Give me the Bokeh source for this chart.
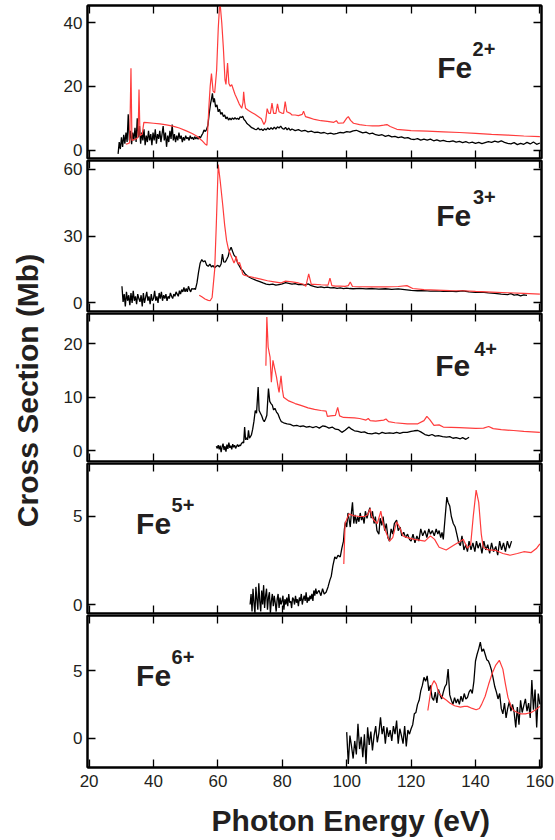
from math import pi
from bokeh.plotting import figure
from bokeh.layouts import column, row
from bokeh.models import Range1d, Label, LinearAxis, FixedTicker
from bokeh.embed import file_html
from bokeh.resources import INLINE

FONT = "Liberation Sans"
TXT = "#231f20"
RED = "#ff3c3c"

# ------------------------------------------------------------------ data
x_ticks = [20, 40, 60, 80, 100, 120, 140, 160]
x_tick_labels = {20: "20", 40: "40", 60: "60", 80: "80", 100: "100", 120: "120", 140: "140", 160: "160"}

ion_labels = ["Fe", "Fe", "Fe", "Fe", "Fe"]
ion_charges = ["2+", "3+", "4+", "5+", "6+"]
y_ticks = [[0, 20, 40], [0, 30, 60], [0, 10, 20], [0, 5], [0, 5]]
y_ranges = [(-2.67, 45.4), (-3.82, 64.0), (-2.06, 25.68), (-0.51, 8.01), (-2.16, 9.06)]

# ---- Fe2+ experiment: dense scan part (start 29.0 eV, 0.35 eV step) + coarser part
fe2_exp_dense_start = 29.0
fe2_exp_dense_step = 0.35
fe2_exp_dense_y = [-1.2, 2.5, 0.3, 4.0, 1.0, 4.8, 2.0, 5.5, 2.5, 11.2,
                   3.0, 6.0, 1.8, 5.5, 3.0, 7.0, 2.5, 10.0, 4.0, 7.5,
                   2.0, 5.5, 3.0, 6.5, 1.5, 4.5, 2.5, 6.0, 3.0, 5.0,
                   1.5, 5.5, 3.0, 6.5, 2.0, 5.0, 3.5, 6.0, 2.5, 5.0,
                   7.5, 3.0, 5.5, 1.0, 4.5, 2.5, 6.0, 3.5, 8.0, 3.0,
                   5.0, 2.5, 4.5, 3.0, 5.5, 3.5, 4.5, 2.5, 4.0, 3.0,
                   4.5, 3.5, 4.0, 3.0, 4.5, 3.5, 4.0, 3.2, 4.2, 3.5,
                   4.0, 3.4, 4.3, 3.8, 4.5]
fe2_exp_e = [55.3, 55.7, 56.1, 56.5, 56.9, 57.3, 57.7, 58.0, 58.3, 58.6, 58.9, 59.3, 59.7, 60.1, 60.5,
             60.9, 61.3, 61.7, 62.1, 62.5, 62.9, 63.3, 63.7, 64.1, 64.5, 64.9, 65.3, 65.7, 66.1, 66.5,
             66.9, 67.3, 67.7, 68.1, 68.5, 68.9, 69.3, 69.7, 70.1, 70.5, 71, 71.5, 72, 72.5, 73, 73.5,
             74, 74.5, 75, 75.5, 76, 76.5, 77, 77.5, 78, 78.5, 79, 79.5, 80, 80.5, 81, 81.5, 82, 82.5,
             83, 84, 85, 86, 87, 88, 89, 90, 91, 92, 93, 94, 95, 96, 97, 98, 99, 100, 101, 102, 103,
             104, 105, 106, 107, 108, 109, 110, 111, 112, 113, 114, 115, 116, 117, 118, 119, 120, 121,
             122, 123, 124, 125, 126, 127, 128, 129, 130, 131, 132, 133, 134, 135, 136, 137, 138, 139,
             140, 141, 142, 143, 144, 145, 146, 147, 148, 149, 150, 151, 152, 153, 154, 155, 156, 157,
             158, 159, 160]
fe2_exp_y = [5.2, 6.3, 5.8, 6.5, 7.8, 11.5, 14.5, 16.0, 17.8, 15.0, 16.2, 13.5, 14.2, 12.0, 12.8,
             11.2, 11.8, 10.5, 11.0, 9.8, 10.4, 9.4, 10.0, 9.5, 10.1, 9.6, 10.2, 9.7, 10.0, 9.6,
             10.4, 10.2, 10.6, 9.6, 9.2, 8.5, 8.1, 7.8, 7.4, 7.0, 6.8, 6.5, 6.4, 6.9, 6.3, 6.6,
             6.1, 6.7, 6.3, 6.9, 6.4, 7.0, 6.5, 7.2, 6.6, 7.3, 6.9, 7.5, 6.8, 6.5, 7.1, 6.3, 6.9, 6.2,
             6.6, 6.1, 6.4, 5.9, 6.2, 5.7, 5.9, 5.5, 5.6, 5.3, 5.5, 5.1, 5.3, 5.0, 5.2, 5.5, 5.4, 5.8,
             5.6, 6.0, 6.2, 5.8, 5.4, 5.6, 5.1, 5.3, 4.8, 4.6, 4.8, 4.3, 4.6, 4.1, 4.3, 3.9, 4.1, 3.7,
             3.9, 3.4, 3.3, 3.6, 3.1, 3.4, 3.1, 3.4, 2.9, 3.2, 2.8, 3.0, 2.7, 2.6, 2.9, 2.5, 2.7, 2.3,
             2.6, 2.2, 2.5, 2.1, 2.4, 2.0, 2.3, 2.6, 2.4, 2.8, 2.5, 2.9, 2.4, 2.1, 1.9, 2.3, 1.7, 2.1,
             1.8, 2.4, 1.9, 2.5, 1.8, 2.2]
fe2_th_e = [31.4, 32.0, 32.6, 33.0, 33.3, 34.0, 34.6, 35.2, 35.5, 35.8, 36.5, 37.0, 38, 40, 42, 44, 46,
            48, 50, 52, 53.5, 55, 56, 56.6, 57.2, 57.6, 58.0, 58.5, 59.0, 59.6, 60.1, 60.6, 61.2, 61.7,
            62.2, 62.5, 63.0, 63.4, 63.8, 64.3, 64.8, 65.3, 65.9, 66.6, 67.4, 67.8, 68.0, 68.3, 68.6,
            69.5, 70.5, 71.5, 72.5, 73.5, 74.3, 74.8, 75.3, 75.8, 76.3, 76.8, 77.3, 78.0, 78.5, 79.0,
            79.8, 80.4, 80.9, 81.4, 82.5, 83, 84, 85, 86.2, 86.6, 87.2, 88.5, 90, 92, 94, 96, 96.8,
            97.4, 99, 100, 100.5, 101.2, 102.1, 104, 106, 108, 110, 111.5, 112.5, 113.5, 115.6, 120,
            125, 130, 135, 140, 145, 150, 155, 160]
fe2_th_y = [1.8, 2.0, 2.3, 25.7, 3.0, 3.3, 3.5, 4.0, 19.0, 4.5, 5.0, 8.7, 8.6, 8.4, 8.2, 7.9, 7.5,
            6.9, 6.1, 5.2, 4.3, 3.0, 1.9, 1.5, 13.6, 20.0, 24.0, 18.5, 18.0, 25.0, 38.0, 47.0, 40.0, 32.0,
            22.0, 20.6, 27.3, 21.0, 20.0, 20.5, 19.0, 17.5, 16.2, 14.5, 13.1, 15.0, 18.3, 15.0, 13.1,
            12.4, 11.8, 11.2, 10.5, 9.8, 8.0, 9.0, 13.0, 11.5, 11.5, 14.7, 11.5, 11.5, 14.5, 12.0,
            11.6, 11.5, 15.2, 12.0, 11.5, 11.0, 11.0, 10.8, 11.2, 12.2, 10.5, 10.1, 9.6, 9.2, 9.0, 8.7, 9.2,
            8.4, 8.5, 10.0, 10.5, 9.3, 8.4, 8.0, 7.7, 7.6, 7.6, 7.8, 8.0, 7.4, 6.5, 6.1,
            5.9, 5.7, 5.5, 5.2, 4.9, 4.7, 4.4, 4.2]

# ---- Fe3+
fe3_exp_dense_start = 30.2
fe3_exp_dense_step = 0.35
fe3_exp_dense_y = [7.5, 0.5, 4.0, -1.5, 5.0, 1.0, 3.5, -1.0, 4.5, 0.0,
                   5.5, 1.0, 3.0, -0.5, 4.0, 2.0, 0.5, 3.5, -1.5, 4.5,
                   0.0, 2.5, 5.0, 1.0, 3.0, -0.5, 4.0, 1.0, 2.0, 5.5,
                   1.0, 3.0, 0.0, 4.5, 2.0, 5.0, 1.0, 3.5, 2.0, 4.0,
                   1.0, 3.0, 2.0, 4.5, 3.0, 2.0, 4.0, 3.0, 5.0, 4.0,
                   3.0, 5.5, 4.0, 6.0, 5.0, 7.0, 5.0, 6.5, 5.0, 7.5,
                   6.0, 5.0, 6.5]
fe3_exp_e = [52.3, 52.7, 53.0, 53.5, 54.0, 54.5, 55.0, 55.5, 56.0, 56.5, 57.0, 57.5, 58.0, 58.5, 59.0,
             59.5, 60.0, 60.5, 61.0, 61.4, 61.8, 62.3, 62.7, 63.2, 63.6, 64.1, 64.6, 65.0, 65.6, 66.1,
             66.7, 67.2, 67.7, 68.5, 69.5, 70.5, 71.9, 73, 74, 75, 76, 77, 78, 79, 80, 81, 82, 83, 84,
             85, 86, 87, 88, 89, 90, 91, 92, 93, 94, 95, 96, 97, 98, 99, 100, 101, 102, 104, 106, 108,
             110, 112, 114, 116, 118, 120, 122, 124, 126, 128, 130, 132, 134, 136, 138, 140, 142, 144,
             146, 148, 150, 151, 152, 153, 154, 155, 156]
fe3_exp_y = [6.2, 6.5, 6.0, 9.0, 14.0, 18.0, 19.5, 18.5, 19.0, 17.0, 16.5, 17.5, 16.2, 16.8, 15.8,
             16.5, 16.9, 16.2, 17.5, 22.0, 18.5, 18.4, 19.5, 21.0, 23.5, 25.0, 23.0, 21.5, 20.5, 18.0,
             16.5, 15.2, 14.6, 13.0, 11.8, 11.0, 10.2, 9.6, 9.0, 8.5, 8.2, 8.5, 8.0, 8.3, 8.6, 9.1, 8.8,
             8.5, 8.7, 8.3, 8.4, 8.0, 8.6, 7.8, 7.4, 7.0, 7.2, 6.9, 7.1, 6.8, 6.9, 6.6, 6.8, 6.5, 6.7,
             6.5, 6.4, 6.6, 6.3, 6.5, 6.2, 6.4, 6.1, 6.3, 6.0, 5.7, 5.5, 5.6, 5.3, 5.4, 5.2, 5.3, 5.1,
             5.5, 5.0, 4.8, 4.9, 4.5, 4.3, 4.0, 3.8, 4.2, 3.5, 3.8, 3.2, 3.6, 3.4]
fe3_th_e = [54.2, 55, 56, 57, 57.6, 58.2, 59.0, 59.5, 60.1, 60.7, 61.5, 62.1, 62.7, 63.3, 64.3, 65.0,
            65.4, 65.7, 65.9, 66.3, 66.7, 67.2, 67.7, 68.1, 69.5, 71.2, 73, 75.4, 77.5, 79.5, 81, 83,
            85, 86.6, 87.3, 88.2, 89, 90, 92, 94.2, 94.8, 95.4, 96.5, 98, 99.5, 100.5, 101.1, 101.8,
            104, 108, 112, 116, 118.7, 120.5, 124, 128, 132, 136, 140, 145, 150, 155, 160]
fe3_th_y = [3.5, 2.8, 1.8, 1.2, 1.0, 2.5, 15.0, 35.0, 62.2, 55.0, 44.0, 35.0, 28.0, 24.0, 20.4, 18.0,
            19.3, 21.0, 19.3, 17.5, 18.2, 16.0, 13.0, 12.5, 12.0, 11.4, 10.8, 10.0, 9.5, 9.0, 9.8, 9.5,
            9.0, 8.4, 7.5, 13.1, 8.4, 8.4, 8.2, 8.0, 11.2, 7.8, 7.6, 7.6, 7.5, 7.8, 9.4, 7.4,
            7.3, 7.2, 7.2, 7.4, 7.8, 6.5, 6.0, 5.8, 5.6, 5.5, 5.2, 4.9, 4.6, 4.3, 4.0]

# ---- Fe4+
fe4_exp_dense_start = 59.5
fe4_exp_dense_step = 0.3
fe4_exp_dense_y = [0.8, 0.4, 1.0, 0.2, 0.9, -0.3, 0.7, 1.3, 0.1, 0.8, -0.2, 1.1, 0.3, 1.5,
                   0.5, 0.9, 0.2, 1.2, 0.6, 1.0, 0.4, 0.8, 1.1, 0.7, 1.0, 0.9, 1.3]
fe4_exp_e = [67.8, 68.0, 68.3, 68.6, 68.9, 69.2, 69.5, 69.8, 70.1, 70.4, 70.8, 71.2, 71.6, 72.0, 72.5,
             72.8, 73.2, 73.6, 74.0, 74.4, 74.8, 75.2, 75.7, 76.1, 76.5, 76.9, 77.3, 77.7, 78.2, 78.7,
             79.2, 79.7, 80.4, 81.5, 82.5, 83.5, 84.5, 85.5, 86.5, 87.5, 88.5, 89.5, 90.5, 91.5, 92.5,
             93.5, 94.5, 95.5, 96.5, 97.5, 98.5, 99.5, 100.7, 101.5, 102.4, 103.5, 104.5, 105.5, 106.5,
             107.8, 109, 110, 111, 112, 113.3, 114.5, 115.5, 116.5, 117.5, 118.8, 120, 121, 122.1, 123,
             124.3, 125.5, 126.5, 127.5, 128.5, 129.8, 131, 132, 133, 134, 135.3, 136, 137, 138]
fe4_exp_y = [1.6, 1.4, 4.4, 2.0, 2.4, 2.0, 3.8, 2.3, 2.6, 2.9, 4.0, 5.5, 7.5, 7.0, 11.9,
             7.5, 7.0, 6.5, 5.8, 5.4, 5.9, 6.6, 11.6, 9.2, 8.8, 8.5, 7.6, 7.9, 7.2, 6.8,
             6.0, 5.4, 5.2, 5.0, 4.9, 4.6, 4.7, 4.5, 4.6, 4.4, 4.5, 4.3, 4.5, 4.2, 4.6,
             4.5, 4.2, 4.4, 4.0, 3.9, 3.4, 3.8, 4.4, 4.0, 3.7, 3.6, 3.4, 3.5, 3.2,
             3.1, 3.3, 3.1, 3.4, 3.2, 3.3, 3.2, 3.4, 3.2, 3.4, 3.4, 3.6, 3.7, 3.75, 3.5,
             3.0, 2.8, 3.0, 2.7, 2.8, 2.6, 2.5, 2.6, 2.3, 2.4, 2.2, 2.4, 2.1, 2.5]
fe4_th_e = [74.9, 75.2, 75.6, 76.2, 76.6, 77.1, 77.4, 78.2, 78.8, 79.0, 79.6, 80.0, 80.4, 82, 84, 86,
            88, 90, 92, 93.6, 94.0, 95, 96.5, 97.2, 97.8, 99, 102.4, 104, 106, 106.7, 107.3, 109,
            111.5, 112.2, 113, 115, 118.8, 122.1, 124, 124.9, 125.8, 127.1, 128.7, 130, 135, 140,
            142.5, 144.1, 145.5, 148, 151.8, 155, 160]
fe4_th_y = [15.9, 25.0, 19.4, 17.5, 12.8, 16.9, 16.0, 13.75, 11.5, 10.9, 14.0, 11.5, 10.0, 9.3, 8.8, 8.4,
            8.0, 7.7, 7.5, 7.4, 6.4, 6.5, 6.6, 8.1, 6.5, 6.2, 6.1, 6.0, 5.7, 6.0, 5.6, 5.5,
            5.7, 5.9, 5.4, 5.2, 5.0, 5.0, 5.6, 6.4, 5.8, 4.7, 4.8, 4.4, 4.3, 4.15,
            4.2, 4.5, 4.1, 3.9, 3.75, 3.6, 3.4]

# ---- Fe5+
fe5_exp_dense_start = 70.0
fe5_exp_dense_step = 0.3
fe5_exp_dense_y = [0.0, 0.6, -0.4, 0.9, 0.1, -0.5, 1.0, 0.3, -0.3, 1.2, 0.2, -0.4, 0.8, 0.0, 1.1, -0.2, 0.5,
                   0.9, -0.3, 0.4, 0.7, -0.5, 0.2, 0.6, -0.1, 0.5, 0.1, -0.4, 0.3, 0.6, -0.2, 0.4, 0.0, 0.2,
                   0.5, -0.3, 0.3, 0.0, 0.4, -0.1, 0.6, 0.1, 0.2, -0.2, 0.4, 0.3, 0.0, 0.5, 0.1, 0.3, -0.1,
                   0.4, 0.2, 0.6, 0.0, 0.3, 0.5, 0.2, 0.7, 0.1, 0.4, 0.2, 0.5, 0.3, 0.6, 0.2, 0.8, 0.5, 0.9,
                   0.6, 0.7]
fe5_exp_e = [91.4, 92, 92.5, 93, 93.6, 94.2, 94.8, 95.2, 95.7, 96.3, 96.8, 97.3, 98, 98.5, 99, 99.3,
             99.6, 100, 100.4, 100.7, 101.1, 101.5, 101.8, 102.2, 102.6, 103, 103.4, 103.8, 104.2,
             104.6, 105, 105.4, 105.8, 106.3, 106.7, 107.2, 107.6, 108, 108.5, 108.9, 109.4, 110,
             110.4, 110.9, 111.3, 111.8, 112.3, 112.8, 113.3, 113.8, 114.3, 114.8, 115.5, 116, 116.6,
             117.1, 117.7, 118.3, 118.9, 119.5, 120, 120.6, 121.2, 121.8, 122.4, 123, 123.6, 124.3,
             124.9, 125.5, 126, 126.6, 127.2, 127.8, 128.3, 128.7, 129.2, 129.6, 130.0, 130.5, 131.1,
             131.5, 132.0, 132.5, 133.1, 133.7, 134.2, 134.8, 135.3, 135.8, 136.4, 137, 137.5, 138,
             138.6, 139.2, 139.8, 140.3, 140.8, 141.4, 142, 142.6, 143.2, 143.8, 144.4, 145, 145.6,
             146.3, 146.9, 147.5, 148.1, 148.7, 149.3, 149.9, 150.5, 151.2]
fe5_exp_y = [0.8, 0.5, 0.9, 0.6, 0.7, 1.0, 1.4, 1.6, 2.2, 2.7, 2.6, 2.8, 2.7, 3.2, 3.6, 4.3,
             4.7, 4.4, 5.2, 4.9, 4.4, 5.3, 5.8, 4.6, 5.1, 4.6, 5.0, 4.7, 5.2,
             4.8, 5.0, 4.6, 5.3, 4.9, 5.2, 5.5, 4.9, 5.3, 4.6, 5.0, 4.2, 4.0,
             4.9, 4.5, 5.0, 4.2, 4.6, 3.8, 3.6, 4.3, 4.0, 4.6, 4.8, 4.2, 4.4,
             3.9, 4.1, 3.8, 4.0, 3.7, 3.6, 4.0, 3.5, 3.9, 3.6, 4.3, 3.9, 4.2,
             3.8, 4.3, 4.0, 4.2, 3.9, 4.3, 4.0, 4.2, 3.8, 4.1, 3.7, 4.8, 6.1,
             5.8, 5.6, 5.0, 4.6, 4.4, 4.0, 3.5, 3.35, 3.9, 3.1, 3.4, 3.0, 3.6,
             3.1, 3.5, 3.0, 3.6, 3.2, 3.5, 2.9, 3.6, 3.1, 3.4, 2.9, 3.5, 3.0,
             3.3, 2.8, 3.6, 3.1, 3.5, 3.0, 3.6, 3.2, 3.6]
fe5_th_e = [99.1, 99.5, 100.7, 102, 104, 105.6, 106.5, 107.3, 107.8, 108.4, 109.5, 110.6, 111.2, 112,
            113.3, 114.3, 115.5, 116.4, 117.5, 118.8, 121, 124.3, 126, 127.3, 128.7, 130.9, 133.1,
            135.3, 136.2, 137.5, 138.5, 139.3, 140.2, 141.0, 141.8, 142.4, 144, 146.3, 148.5, 150.7,
            153, 155, 157.3, 159, 160]
fe5_th_y = [2.3, 4.6, 5.15, 5.05, 5.0, 5.0, 5.1, 5.45, 5.0, 4.8, 4.6, 5.3, 4.7, 4.2,
            3.6, 3.8, 4.7, 4.4, 3.9, 3.8, 3.7, 3.6, 3.9, 3.7, 3.25, 3.1, 3.35,
            3.6, 3.7, 3.2, 3.4, 5.0, 6.5, 5.8, 4.0, 3.25, 3.1, 3.07, 2.9, 2.8,
            2.9, 3.0, 2.95, 3.2, 3.45]

# ---- Fe6+ (scan start 100 eV, 0.5 eV step)
fe6_exp_start = 100.0
fe6_exp_step = 0.5
fe6_exp_y = [0.45, -1.9, 0.2, -0.6, -1.5, -0.2, -1.2, 1.06, -0.8, 0.1, -1.4,
             0.3, -1.9, 0.8, -0.5, 0.5, -0.9, 0.2, 0.9, -0.3, 0.4,
             1.55, 0.3, 0.9, -0.4, 0.8, 0.1, 0.6, -0.2, 0.9, 0.3,
             1.3, -0.4, 0.7, 0.2, -0.4, 0.9, -0.6, 0.6, 0.3, 0.7,
             1.0, 1.8, 1.9, 2.5, 2.8, 3.5, 3.9, 4.5, 4.2, 4.6,
             3.5, 3.9, 3.0, 2.8, 3.4, 2.6, 3.6, 3.2, 2.9, 3.4,
             3.8, 4.0, 5.1, 3.2, 2.8, 2.5, 3.0, 2.6, 2.9, 2.5,
             3.1, 2.7, 3.3, 2.9, 3.0, 3.4, 3.6, 3.3, 4.2, 5.7,
             6.2, 6.6, 7.1, 6.4, 6.6, 6.2, 5.8, 5.7, 5.4, 5.0,
             4.4, 3.8, 3.4, 2.9, 3.3, 2.2, 1.8, 2.6, 1.5, 2.2,
             2.7, 2.0, 2.5, 1.9, 0.8, 2.3, 1.0, 2.8, 1.9, 2.4,
             2.9, 2.0, 2.6, 1.5, 4.3, 2.1, 3.6, 0.8, 3.3, 2.5]
fe6_th_e = [125.2, 125.8, 126.4, 127.1, 127.8, 128.5, 129.8, 131, 132, 133.5, 135.3, 136.5, 137.5,
            139, 140.2, 141.2, 141.9, 143, 144.1, 145.2, 146.3, 147.4, 148.5, 149.3, 150.1, 151,
            151.8, 153, 154, 155.5, 157.3, 158.7, 160]
fe6_th_y = [2.05, 3.0, 3.9, 4.25, 4.0, 3.4, 3.0, 2.8, 2.6, 2.4, 2.3, 2.35, 2.35,
            2.2, 2.1, 2.2, 2.5, 3.1, 4.0, 4.8, 5.4, 5.75, 5.1, 4.0, 3.0, 2.4,
            2.05, 1.9, 1.8, 1.8, 1.9, 2.1, 2.35]


def grid_axis(start, step, n):
    return [round(start + step * i, 3) for i in range(n)]


exp_series = [
    (grid_axis(fe2_exp_dense_start, fe2_exp_dense_step, len(fe2_exp_dense_y)) + fe2_exp_e,
     fe2_exp_dense_y + fe2_exp_y),
    (grid_axis(fe3_exp_dense_start, fe3_exp_dense_step, len(fe3_exp_dense_y)) + fe3_exp_e,
     fe3_exp_dense_y + fe3_exp_y),
    (grid_axis(fe4_exp_dense_start, fe4_exp_dense_step, len(fe4_exp_dense_y)) + fe4_exp_e,
     fe4_exp_dense_y + fe4_exp_y),
    (grid_axis(fe5_exp_dense_start, fe5_exp_dense_step, len(fe5_exp_dense_y)) + fe5_exp_e,
     fe5_exp_dense_y + fe5_exp_y),
    (grid_axis(fe6_exp_start, fe6_exp_step, len(fe6_exp_y)), fe6_exp_y),
]
th_series = [(fe2_th_e, fe2_th_y), (fe3_th_e, fe3_th_y), (fe4_th_e, fe4_th_y),
             (fe5_th_e, fe5_th_y), (fe6_th_e, fe6_th_y)]

# label anchor positions (data units): (Fe x, Fe y, charge x, charge y)
label_pos = [(128.1, 25.8, 139.1, 31.6), (127.8, 39.5, 139.2, 47.8), (127.5, 15.9, 139.6, 19.1),
             (34.6, 4.58, 45.6, 5.63), (34.6, 4.63, 45.6, 5.99)]

# ------------------------------------------------------------------ layout
YW = 48           # width of the y-title strip
PW = 507          # width of every panel
XH = 41           # height of the x-title strip
heights = [159, 153, 150, 152, 183]
borders_top = [5, 1, 1, 1, 1]
borders_bottom = [1, 1, 1, 1, 30]


def style_axis(ax, show_labels):
    ax.major_tick_in = 8
    ax.major_tick_out = 0
    ax.minor_tick_in = 0
    ax.minor_tick_out = 0
    ax.axis_line_color = "black"
    ax.axis_line_width = 2
    ax.major_tick_line_color = "black"
    ax.major_tick_line_width = 1.3
    if show_labels:
        ax.major_label_text_font = FONT
        ax.major_label_text_font_size = "17px"
        ax.major_label_text_color = TXT
    else:
        ax.major_label_text_font_size = "0px"
        ax.major_label_text_color = None
        ax.major_label_standoff = 0


panels = []
for i in range(5):
    last = (i == 4)
    p = figure(width=PW, height=heights[i], x_range=Range1d(19.5, 160.5),
               y_range=Range1d(*y_ranges[i]), output_backend="svg", toolbar_location=None,
               min_border_left=39, min_border_right=14, min_border_top=borders_top[i],
               min_border_bottom=borders_bottom[i])
    p.grid.visible = False
    p.outline_line_color = "black"
    p.outline_line_width = 2
    p.background_fill_color = "white"
    p.border_fill_color = "white"
    top_ax = LinearAxis()
    right_ax = LinearAxis()
    p.add_layout(top_ax, "above")
    p.add_layout(right_ax, "right")
    bottom_ax = p.below[0]
    left_ax = p.left[0]
    for ax in (top_ax, bottom_ax):
        ax.ticker = FixedTicker(ticks=x_ticks)
    for ax in (left_ax, right_ax):
        ax.ticker = FixedTicker(ticks=y_ticks[i])
    style_axis(top_ax, False)
    style_axis(right_ax, False)
    style_axis(left_ax, True)
    left_ax.major_label_standoff = 5
    style_axis(bottom_ax, last)
    if last:
        bottom_ax.major_label_standoff = 7
        bottom_ax.major_label_overrides = x_tick_labels

    ex, ey = exp_series[i]
    tx, ty = th_series[i]
    p.line(ex, ey, line_color="black", line_width=1.3)
    p.line(tx, ty, line_color=RED, line_width=1.2)

    fx, fy, cx, cy = label_pos[i]
    p.add_layout(Label(x=fx, y=fy, text=ion_labels[i], text_font=FONT, text_font_style="bold",
                       text_font_size="30px", text_color=TXT, text_align="left",
                       text_baseline="alphabetic"))
    p.add_layout(Label(x=cx, y=cy, text=ion_charges[i], text_font=FONT, text_font_style="bold",
                       text_font_size="20px", text_color=TXT, text_align="left",
                       text_baseline="alphabetic"))
    panels.append(p)

# x axis title strip
xlab = figure(width=PW, height=XH, x_range=Range1d(0, PW), y_range=Range1d(0, XH),
              output_backend="svg", toolbar_location=None, x_axis_type=None, y_axis_type=None,
              min_border=0)
xlab.grid.visible = False
xlab.outline_line_color = None
xlab.add_layout(Label(x=294, y=XH - 23, text="Photon Energy (eV)", text_font=FONT, text_font_style="bold",
                      text_font_size="30px", text_color=TXT, text_align="center", text_baseline="middle"))

TOTAL_H = sum(heights) + XH
ylab = figure(width=YW, height=TOTAL_H, x_range=Range1d(0, YW), y_range=Range1d(0, TOTAL_H),
              output_backend="svg", toolbar_location=None, x_axis_type=None, y_axis_type=None,
              min_border=0)
ylab.grid.visible = False
ylab.outline_line_color = None
ylab.add_layout(Label(x=27, y=TOTAL_H - 390, text="Cross Section (Mb)", text_font=FONT,
                      text_font_style="bold", text_font_size="30px", text_color=TXT,
                      text_align="center", text_baseline="middle", angle=pi / 2))

layout = row(ylab, column(*panels, xlab, spacing=0), spacing=0)

open("out.html", "w").write(file_html(layout, INLINE, title="Fe photoionization"))
